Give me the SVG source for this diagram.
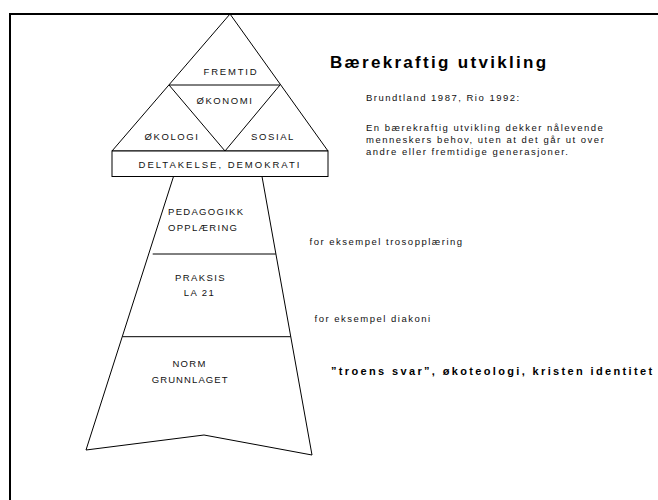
<svg xmlns="http://www.w3.org/2000/svg" width="658" height="500" viewBox="0 0 658 500">
<style>
.ln{fill:none;stroke:#000;stroke-width:1}
.bx{fill:#fff;stroke:#000;stroke-width:1}
.lab{font-family:"Liberation Sans",Arial,sans-serif;font-size:9.5px;fill:#111;letter-spacing:1.2px}
.c{text-anchor:middle}
.txt{font-family:"Liberation Sans",Arial,sans-serif;font-size:9.5px;fill:#111;letter-spacing:1.5px}
.bold{font-family:"Liberation Sans",Arial,sans-serif;font-weight:bold;fill:#000}
</style>
<rect width="658" height="500" fill="#fff"/>
<path d="M10,500 V14 H658" fill="none" stroke="#000" stroke-width="2"/>

<g id="triangle">
<polygon class="ln" points="230,14 328,151 112,151"/>
<line class="ln" x1="169" y1="85" x2="280" y2="85"/>
<polyline class="ln" points="169,85 225,151 280,85"/>
</g>
<g id="fremtid"><text class="lab c" x="231" y="75" style="letter-spacing:1.8px">FREMTID</text></g>
<g id="okonomi"><text class="lab c" x="225" y="104" style="letter-spacing:1.6px">ØKONOMI</text></g>
<g id="okologi"><text class="lab c" x="172" y="140" style="letter-spacing:1.6px">ØKOLOGI</text></g>
<g id="sosial"><text class="lab c" x="273" y="140" style="letter-spacing:1.6px">SOSIAL</text></g>
<g id="deltakelse">
<rect class="bx" x="112" y="151" width="216" height="25.5"/>
<text class="lab c" x="220" y="167.5" style="letter-spacing:2px">DELTAKELSE, DEMOKRATI</text>
</g>

<g id="base">
<polygon class="ln" points="173.5,176.5 262,176.5 312,455 204,435 86,450"/>
</g>
<g id="connectors">
<line class="ln" x1="152.7" y1="254" x2="275.8" y2="254"/>
<line class="ln" x1="122.5" y1="336.7" x2="290.7" y2="336.7"/>
</g>
<g id="pedagogikk">
<text class="lab" x="168" y="214.5" style="letter-spacing:1.3px">PEDAGOGIKK</text>
<text class="lab" x="168" y="230.5" style="letter-spacing:1.3px">OPPLÆRING</text>
</g>
<g id="praksis">
<text class="lab c" x="200.5" y="281" style="letter-spacing:1.4px">PRAKSIS</text>
<text class="lab c" x="199.5" y="296" style="letter-spacing:1.4px">LA 21</text>
</g>
<g id="norm">
<text class="lab c" x="189.5" y="367.3" style="letter-spacing:1.3px">NORM</text>
<text class="lab c" x="190.2" y="383.3" style="letter-spacing:1.1px">GRUNNLAGET</text>
</g>

<g id="title">
<text class="bold" x="330" y="67.5" font-size="17" style="letter-spacing:2.3px">Bærekraftig utvikling</text>
</g>
<g id="definition">
<text class="txt" x="366" y="101">Brundtland 1987, Rio 1992:</text>
<text class="txt" x="366" y="131">En bærekraftig utvikling dekker nålevende</text>
<text class="txt" x="366" y="143">menneskers behov, uten at det går ut over</text>
<text class="txt" x="366" y="155">andre eller fremtidige generasjoner.</text>
</g>
<g id="note1"><text class="txt" x="309.5" y="245">for eksempel trosopplæring</text></g>
<g id="note2"><text class="txt" x="314.5" y="321.5">for eksempel diakoni</text></g>
<g id="note3"><text class="bold" x="331" y="374.5" font-size="11" style="letter-spacing:2.35px">”troens svar”, økoteologi, kristen identitet</text></g>
</svg>
